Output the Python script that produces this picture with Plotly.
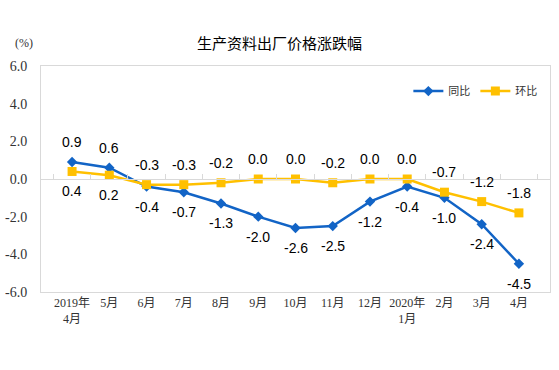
import plotly.graph_objects as go

categories = ["2019年<br>4月", "5月", "6月", "7月", "8月", "9月", "10月", "11月", "12月",
              "2020年<br>1月", "2月", "3月", "4月"]
yoy = [0.9, 0.6, -0.4, -0.7, -1.3, -2.0, -2.6, -2.5, -1.2, -0.4, -1.0, -2.4, -4.5]
mom = [0.4, 0.2, -0.3, -0.3, -0.2, 0.0, 0.0, -0.2, 0.0, 0.0, -0.7, -1.2, -1.8]
yoy_label_above = [True, True] + [False] * 11
mom_label_above = [False, False] + [True] * 11
y_ticks = [6.0, 4.0, 2.0, 0.0, -2.0, -4.0, -6.0]

BLUE = "#1264c6"
YELLOW = "#ffc000"
GRID = "#d9d9d9"
SANS = "Liberation Sans, Arial, sans-serif"
SERIF = "Liberation Serif, Times New Roman, Noto Sans CJK SC, serif"

fig = go.Figure()
fig.add_trace(go.Scatter(
    x=categories, y=yoy, name="同比", mode="lines+markers",
    line=dict(color=BLUE, width=2.5),
    marker=dict(symbol="diamond", size=8, color=BLUE),
))
fig.add_trace(go.Scatter(
    x=categories, y=mom, name="环比", mode="lines+markers",
    line=dict(color=YELLOW, width=2.5),
    marker=dict(symbol="square", size=9, color=YELLOW),
))
# invisible trace for the zero-line tick axis
fig.add_trace(go.Scatter(x=categories, y=[None] * len(categories), xaxis="x2",
                         showlegend=False, hoverinfo="skip", mode="lines"))

annotations = []
for c, v, up in zip(categories, yoy, yoy_label_above):
    annotations.append(dict(x=c, y=v, text=f"{v:.1f}", showarrow=False,
                            yshift=20 if up else -20,
                            font=dict(family=SANS, size=14, color="#000")))
for c, v, up in zip(categories, mom, mom_label_above):
    annotations.append(dict(x=c, y=v, text=f"{v:.1f}", showarrow=False,
                            yshift=20 if up else -20,
                            font=dict(family=SANS, size=14, color="#000")))
annotations.append(dict(xref="paper", yref="paper", x=-0.012, y=1.06,
                        xanchor="right", yanchor="bottom", text="(%)", showarrow=False,
                        font=dict(family=SERIF, size=12, color="#333")))

fig.update_layout(
    width=559, height=370,
    margin=dict(l=41, r=9, t=66, b=78, autoexpand=False),
    paper_bgcolor="white", plot_bgcolor="white",
    title=dict(text="生产资料出厂价格涨跌幅", x=0.5, xanchor="center",
               y=1 - 44 / 370, yanchor="middle",
               font=dict(family="Noto Sans CJK SC, sans-serif", size=15, color="#000")),
    showlegend=True,
    legend=dict(orientation="h", x=0.985, xanchor="right", y=0.889, yanchor="middle",
                font=dict(family="Noto Sans CJK SC, sans-serif", size=11, color="#333"),
                bgcolor="rgba(0,0,0,0)", itemwidth=30, tracegroupgap=0),
    xaxis=dict(type="category", showline=True, linecolor=GRID, linewidth=1, mirror=True,
               showgrid=False, zeroline=False, ticks="", automargin=False,
               tickfont=dict(family=SERIF, size=12, color="#333")),
    xaxis2=dict(type="category", overlaying="x", matches="x", anchor="free", position=0.5,
                showline=True, linecolor=GRID, linewidth=1, showgrid=False,
                ticks="inside", ticklen=5, tickcolor=GRID, tickson="boundaries",
                showticklabels=False, automargin=False),
    yaxis=dict(range=[-6, 6], tickvals=y_ticks, ticktext=[f"{t:.1f}" for t in y_ticks],
               showline=True, linecolor=GRID, linewidth=1, mirror=True,
               showgrid=False, zeroline=False, automargin=False,
               ticks="outside", ticklen=10, tickcolor="rgba(0,0,0,0)",
               tickfont=dict(family=SERIF, size=14, color="#333")),
    annotations=annotations,
)

fig.write_html("out.html", config={"displayModeBar": False},
               post_script="document.body.style.margin='0';")
